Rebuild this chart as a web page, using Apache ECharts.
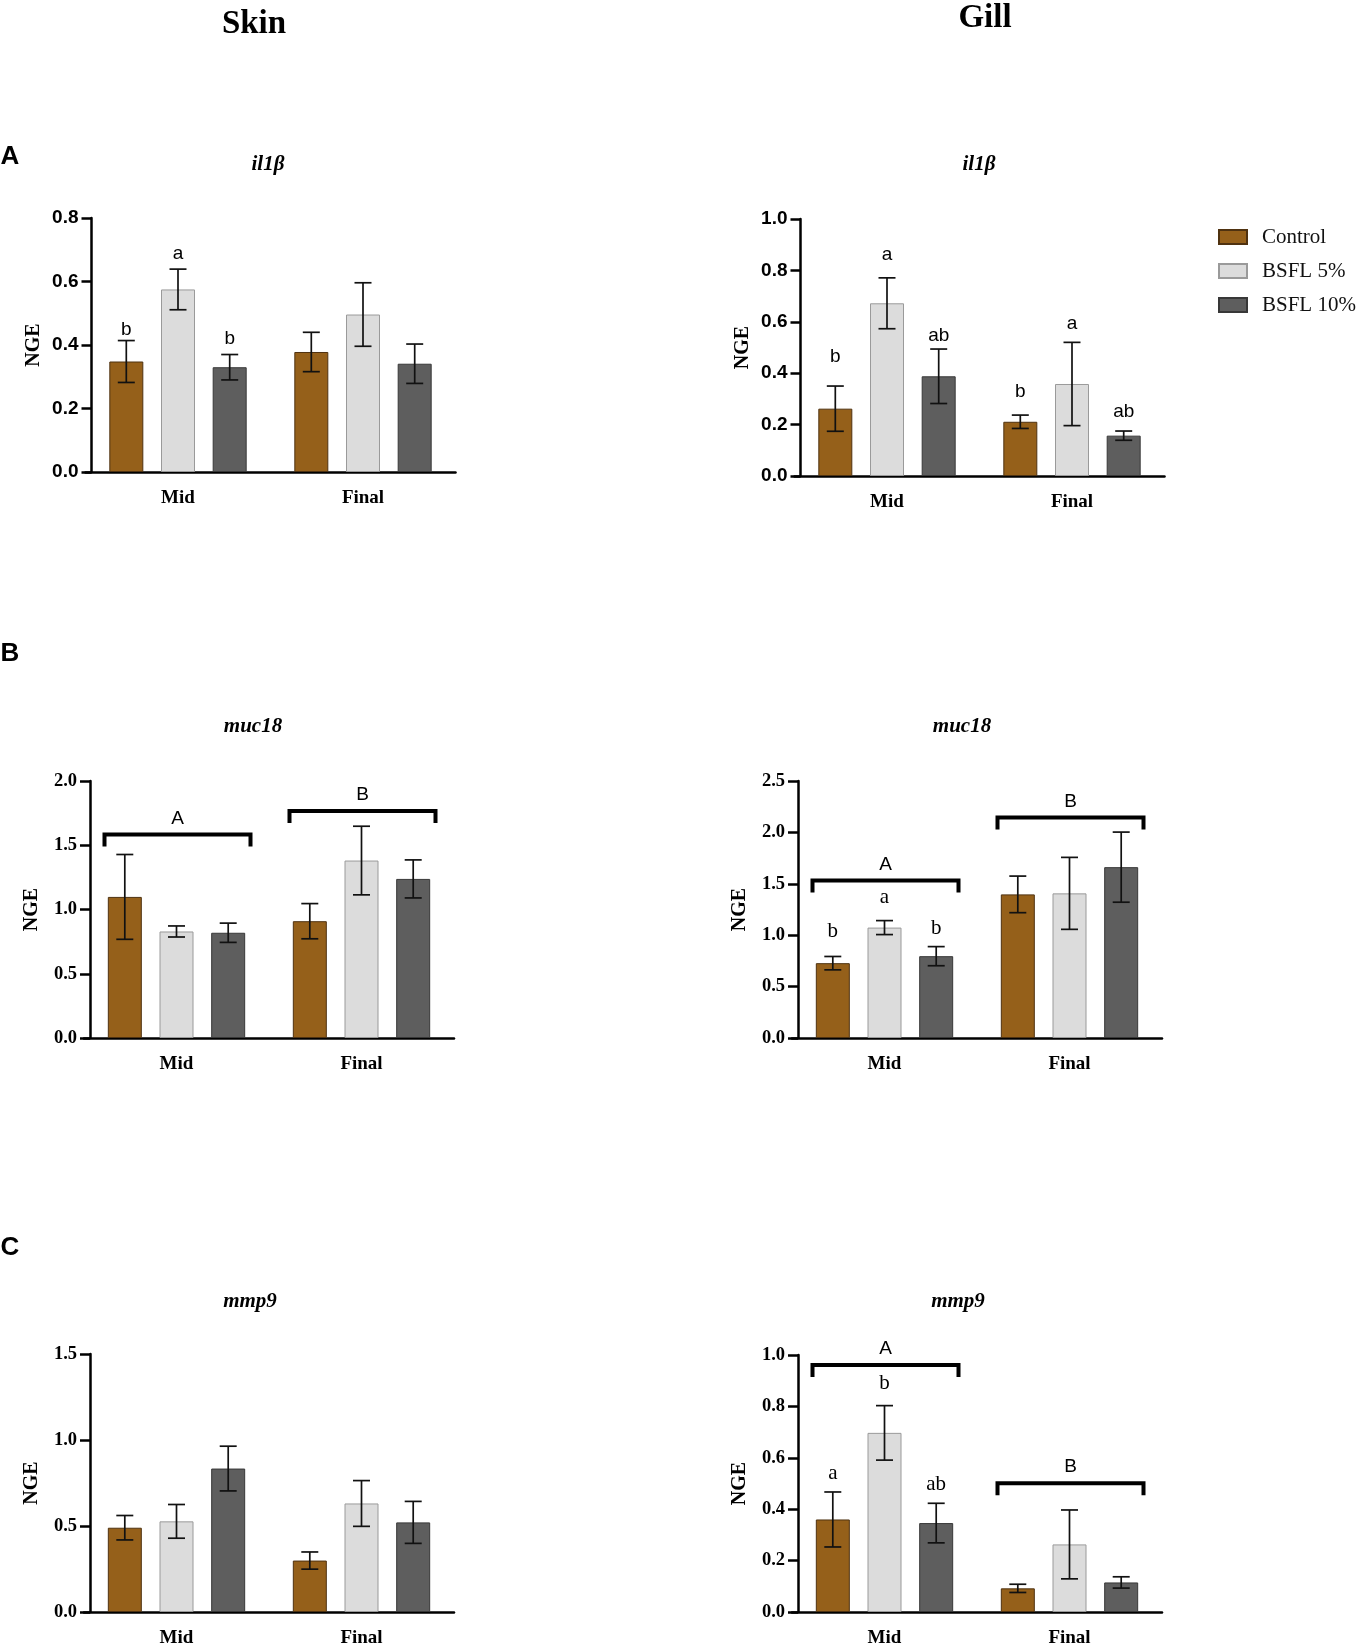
<!DOCTYPE html>
<html>
<head>
<meta charset="utf-8">
<script src="https://cdn.jsdelivr.net/npm/echarts@6/dist/echarts.min.js"></script>
<style>
html, body { margin: 0; padding: 0; background: #fff; }
#main { width: 1360px; height: 1649px; }
</style>
</head>
<body>
<div id="main"></div>
<script>
"use strict";
const groups = ['Control', 'BSFL 5%', 'BSFL 10%'];
const times = ['Mid', 'Final'];

// mean and error, one row per group: [Mid, Final]
const skinIl1bMean = [[0.348, 0.378], [0.575, 0.496], [0.330, 0.341]];
const skinIl1bErr = [[0.066, 0.062], [0.064, 0.100], [0.040, 0.062]];
const gillIl1bMean = [[0.262, 0.211], [0.672, 0.358], [0.388, 0.157]];
const gillIl1bErr = [[0.088, 0.026], [0.099, 0.162], [0.106, 0.018]];
const skinMuc18Mean = [[1.098, 0.909], [0.829, 1.381], [0.819, 1.238]];
const skinMuc18Err = [[0.330, 0.137], [0.043, 0.267], [0.075, 0.148]];
const gillMuc18Mean = [[0.728, 1.397], [1.074, 1.407], [0.796, 1.662]];
const gillMuc18Err = [[0.065, 0.178], [0.068, 0.350], [0.093, 0.341]];
const skinMmp9Mean = [[0.490, 0.299], [0.527, 0.631], [0.834, 0.521]];
const skinMmp9Err = [[0.071, 0.050], [0.098, 0.133], [0.130, 0.122]];
const gillMmp9Mean = [[0.360, 0.092], [0.697, 0.263], [0.346, 0.115]];
const gillMmp9Err = [[0.107, 0.016], [0.106, 0.134], [0.077, 0.022]];

// letters: [group, time, text, height]
const skinIl1bLetters = [[0, 0, 'b', 0.448], [1, 0, 'a', 0.686], [2, 0, 'b', 0.42]];
const gillIl1bLetters = [[0, 0, 'b', 0.463], [1, 0, 'a', 0.859], [2, 0, 'ab', 0.547],
                         [0, 1, 'b', 0.327], [1, 1, 'a', 0.593], [2, 1, 'ab', 0.249]];
const gillMuc18Letters = [[0, 0, 'b', 1.035], [1, 0, 'a', 1.365], [2, 0, 'b', 1.067]];
const gillMmp9Letters = [[0, 0, 'a', 0.540], [1, 0, 'b', 0.890], [2, 0, 'ab', 0.495]];

// brackets: [time, height, text]
const skinMuc18Brackets = [[0, 1.583, 'A'], [1, 1.767, 'B']];
const gillMuc18Brackets = [[0, 1.533, 'A'], [1, 2.144, 'B']];
const gillMmp9Brackets = [[0, 0.961, 'A'], [1, 0.501, 'B']];

// y axis max / step per panel
const yMax = [0.8, 1.0, 2.0, 2.5, 1.5, 1.0];
const yStep = [0.2, 0.2, 0.5, 0.5, 0.5, 0.2];

const SERIF = '"Liberation Serif", "Times New Roman", serif';
const SANS = '"Liberation Sans", Arial, sans-serif';
const colors = ['#95601a', '#dcdcdc', '#5e5e5e'];
const borders = ['#4f3210', '#9a9a9a', '#383838'];
const BAR_W = 34;
const STEP = 51.7; // distance between bar centres
const SHIFT = 6;   // y axis sits this far inside the grid

const panels = [
    { title: 'il1β', tx: 268, ty: 165, mean: skinIl1bMean, err: skinIl1bErr, letters: skinIl1bLetters, brackets: [],
      axisX: 91.5, top: 218, h: 254, tickFont: SANS, letterFont: SANS },
    { title: 'il1β', tx: 979, ty: 165, mean: gillIl1bMean, err: gillIl1bErr, letters: gillIl1bLetters, brackets: [],
      axisX: 800.5, top: 219, h: 257, tickFont: SANS, letterFont: SANS },
    { title: 'muc18', tx: 253, ty: 727, mean: skinMuc18Mean, err: skinMuc18Err, letters: [], brackets: skinMuc18Brackets,
      axisX: 90, top: 781, h: 257, tickFont: SERIF, letterFont: SERIF },
    { title: 'muc18', tx: 962, ty: 727, mean: gillMuc18Mean, err: gillMuc18Err, letters: gillMuc18Letters, brackets: gillMuc18Brackets,
      axisX: 798, top: 781, h: 257, tickFont: SERIF, letterFont: SERIF },
    { title: 'mmp9', tx: 250, ty: 1302, mean: skinMmp9Mean, err: skinMmp9Err, letters: [], brackets: [],
      axisX: 90, top: 1354, h: 258, tickFont: SERIF, letterFont: SERIF },
    { title: 'mmp9', tx: 958, ty: 1302, mean: gillMmp9Mean, err: gillMmp9Err, letters: gillMmp9Letters, brackets: gillMmp9Brackets,
      axisX: 798, top: 1355, h: 257, tickFont: SERIF, letterFont: SERIF }
];

let myChart = echarts.init(document.getElementById('main'));

function txt(text, x, y, font) {
    return {
        type: 'text', x: x, y: y,
        style: { text: text, font: font, fill: '#000', textAlign: 'center', textVerticalAlign: 'middle', align: 'center', verticalAlign: 'middle' }
    };
}

let series = [];
panels.forEach(function (p, i) {
    // bars
    for (let g = 0; g < 3; g++) {
        series.push({
            type: 'bar', name: groups[g], xAxisIndex: i, yAxisIndex: i,
            data: p.mean[g], barWidth: BAR_W, barGap: '52%',
            itemStyle: { color: colors[g], borderColor: borders[g], borderWidth: 1 },
            z: 2
        });
    }
    // error bars
    let errData = [];
    for (let g = 0; g < 3; g++) {
        for (let t = 0; t < 2; t++) errData.push([t, p.mean[g][t], p.err[g][t], g]);
    }
    series.push({
        type: 'custom', xAxisIndex: i, yAxisIndex: i, silent: true, z: 5,
        encode: { x: 0, y: 1 },
        data: errData,
        renderItem: function (params, api) {
            const t = api.value(0), m = api.value(1), e = api.value(2), g = api.value(3);
            const hi = api.coord([t, m + e]);
            const lo = api.coord([t, m - e]);
            const x = hi[0] + (g - 1) * STEP;
            const st = { stroke: '#111', lineWidth: 1.7 };
            return {
                type: 'group',
                children: [
                    { type: 'line', shape: { x1: x, y1: hi[1], x2: x, y2: lo[1] }, style: st },
                    { type: 'line', shape: { x1: x - 8.5, y1: hi[1], x2: x + 8.5, y2: hi[1] }, style: st },
                    { type: 'line', shape: { x1: x - 8.5, y1: lo[1], x2: x + 8.5, y2: lo[1] }, style: st }
                ]
            };
        }
    });
    // letters
    if (p.letters.length) {
        series.push({
            type: 'custom', xAxisIndex: i, yAxisIndex: i, silent: true, z: 6,
            encode: { x: 0, y: 1 },
            data: p.letters.map(function (L) { return [L[1], L[3]]; }),
            renderItem: function (params, api) {
                const L = p.letters[params.dataIndex];
                const c = api.coord([L[1], L[3]]);
                const font = p.letterFont === SANS ? '19px ' + SANS : '21px ' + SERIF;
                return txt(L[2], c[0] + (L[0] - 1) * STEP, c[1], font);
            }
        });
    }
    // brackets
    if (p.brackets.length) {
        series.push({
            type: 'custom', xAxisIndex: i, yAxisIndex: i, silent: true, z: 6,
            encode: { x: 0, y: 1 },
            data: p.brackets.map(function (B) { return [B[0], B[1]]; }),
            renderItem: function (params, api) {
                const B = p.brackets[params.dataIndex];
                const c = api.coord([B[0], B[1]]);
                const l = c[0] - 72, r = c[0] + 74, y = c[1];
                return {
                    type: 'group',
                    children: [
                        { type: 'polyline', shape: { points: [[l, y + 12], [l, y], [r, y], [r, y + 12]] },
                          style: { stroke: '#000', lineWidth: 4, fill: null } },
                        txt(B[2], (l + r) / 2, y - 16, '19px ' + SANS)
                    ]
                };
            }
        });
    }
});

let graphics = [
    txt('Skin', 254, 24, 'bold 33px ' + SERIF),
    txt('Gill', 985, 18, 'bold 33px ' + SERIF),
    txt('A', 10, 157, 'bold 26px ' + SANS),
    txt('B', 10, 654, 'bold 26px ' + SANS),
    txt('C', 10, 1248, 'bold 26px ' + SANS)
];
panels.forEach(function (p) {
    graphics.push(txt(p.title, p.tx, p.ty, 'italic bold 21px ' + SERIF));
});

let option = {
    animation: false,
    backgroundColor: '#fff',
    graphic: graphics,
    legend: {
        data: groups, orient: 'vertical', left: 1213, top: 221,
        itemWidth: 28, itemHeight: 14, itemGap: 12, icon: 'rect',
        textStyle: { fontFamily: SERIF, fontSize: 21, color: '#111', lineHeight: 22, padding: [0, 0, 0, 10] }
    },
    grid: panels.map(function (p) {
        return { left: p.axisX - SHIFT, top: p.top, width: 370, height: p.h };
    }),
    xAxis: panels.map(function (p, i) {
        return {
            type: 'category', gridIndex: i, data: times,
            axisLine: { lineStyle: { color: '#000', width: 2.5 } },
            axisTick: { alignWithLabel: true, length: 10, lineStyle: { color: '#000', width: 2.5 } },
            axisLabel: { margin: 17, color: '#000', fontFamily: SERIF, fontWeight: 'bold', fontSize: 19 }
        };
    }),
    yAxis: panels.map(function (p, i) {
        return {
            type: 'value', gridIndex: i, min: 0, max: yMax[i], interval: yStep[i], offset: -SHIFT,
            name: 'NGE', nameLocation: 'middle', nameGap: 48,
            nameTextStyle: { fontFamily: SERIF, fontWeight: 'bold', fontSize: 20, color: '#000' },
            splitLine: { show: false },
            axisLine: { show: true, lineStyle: { color: '#000', width: 2.5 } },
            axisTick: { show: true, length: 10, lineStyle: { color: '#000', width: 2.5 } },
            axisLabel: {
                margin: 13, color: '#000', fontFamily: p.tickFont, fontWeight: 'bold',
                fontSize: p.tickFont === SANS ? 19 : 18.5,
                formatter: function (v) { return v.toFixed(1); }
            }
        };
    }),
    series: series
};
myChart.setOption(option);
</script>
</body>
</html>
